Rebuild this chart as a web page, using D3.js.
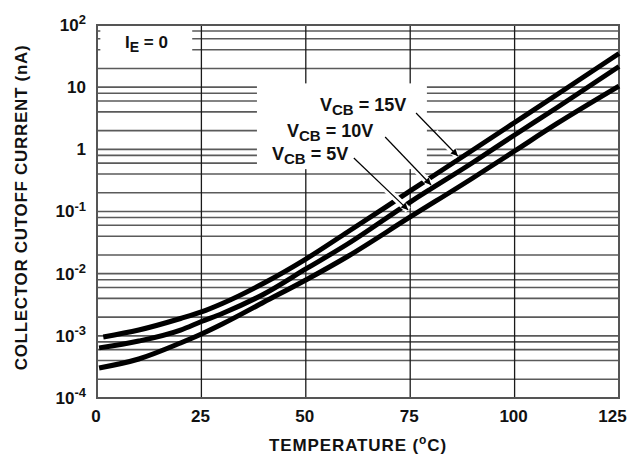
<!DOCTYPE html>
<html>
<head>
<meta charset="utf-8">
<script src="https://cdn.jsdelivr.net/npm/d3@7"></script>
<style>
body { margin: 0; background: #fff; }
text { font-family: "Liberation Sans", Arial, Helvetica, sans-serif; font-weight: bold; fill: #111; }
</style>
</head>
<body>
<script>
// Collector cutoff current vs temperature, three V_CB curves
var temps15 = [1.5, 10, 20, 25, 30, 40, 50, 60, 75, 90, 100, 110, 125];
var icbo15 = [9.6e-4, 1.24e-3, 1.90e-3, 2.42e-3, 3.31e-3, 7.08e-3, 1.72e-2, 4.68e-2, 0.214, 0.976, 2.70, 7.48, 34.8];

var temps10 = [0.5, 10, 20, 25, 30, 40, 50, 60, 75, 90, 100, 110, 125];
var icbo10 = [6.4e-4, 8.25e-4, 1.24e-3, 1.70e-3, 2.29e-3, 4.71e-3, 1.19e-2, 3.0e-2, 0.142, 0.614, 1.70, 4.62, 21.5];

var temps5 = [0.5, 10, 20, 25, 30, 40, 50, 60, 75, 90, 100, 110, 125];
var icbo5 = [3.04e-4, 4.24e-4, 7.67e-4, 1.07e-3, 1.55e-3, 3.5e-3, 7.91e-3, 1.89e-2, 8.16e-2, 0.346, 0.94, 2.56, 10.4];

var xTicks = [0, 25, 50, 75, 100, 125];
var yTicks = [1e-4, 1e-3, 1e-2, 1e-1, 1, 10, 100];
var yTickBase = ["10", "10", "10", "10", "1", "10", "10"];
var yTickSup = ["-4", "-3", "-2", "-1", "", "", "2"];
var gridSteps = [1, 2, 4, 6, 8];
var curveNames = ["15V", "10V", "5V"];

var W = 629, H = 457;
var margins = {top: 25, right: 10, bottom: 59, left: 97};

var svg = d3.select("body").append("svg")
  .attr("width", W)
  .attr("height", H);

var x_Scale = d3.scaleLinear()
  .domain([0, 125])
  .range([margins.left, W - margins.right]);

var y_Scale = d3.scaleLog()
  .domain([1e-4, 1e2])
  .range([H - margins.bottom, margins.top]);

// horizontal grid at 1,2,4,6,8 per decade
var hGrid = [];
for (var e = -4; e < 2; e++) {
  gridSteps.forEach(function(m) { hGrid.push(m * Math.pow(10, e)); });
}
hGrid.push(100);

svg.append("g").selectAll("line")
  .data(hGrid)
  .enter().append("line")
  .attr("x1", x_Scale(0)).attr("x2", x_Scale(125))
  .attr("y1", function(d) { return y_Scale(d); })
  .attr("y2", function(d) { return y_Scale(d); })
  .attr("stroke", "#5a5a5a")
  .attr("stroke-width", 1.6);

svg.append("g").selectAll("line")
  .data(xTicks)
  .enter().append("line")
  .attr("x1", function(d) { return x_Scale(d); })
  .attr("x2", function(d) { return x_Scale(d); })
  .attr("y1", y_Scale(1e2)).attr("y2", y_Scale(1e-4))
  .attr("stroke", "#1a1a1a")
  .attr("stroke-width", 1.3);

// blank areas behind the annotations
var blanks = [
  {t0: 0.8, t1: 22.8, v0: 28, v1: 100},
  {t0: 38.3, t1: 79.0, v0: 0.48, v1: 11.5}
];
svg.append("g").selectAll("rect")
  .data(blanks)
  .enter().append("rect")
  .attr("x", function(d) { return x_Scale(d.t0); })
  .attr("width", function(d) { return x_Scale(d.t1) - x_Scale(d.t0); })
  .attr("y", function(d) { return y_Scale(d.v1); })
  .attr("height", function(d) { return y_Scale(d.v0) - y_Scale(d.v1); })
  .attr("fill", "#fff");

// frame
svg.append("rect")
  .attr("x", x_Scale(0)).attr("y", y_Scale(1e2))
  .attr("width", x_Scale(125) - x_Scale(0))
  .attr("height", y_Scale(1e-4) - y_Scale(1e2))
  .attr("fill", "none")
  .attr("stroke", "#555")
  .attr("stroke-width", 2);

// axes
var x_Axis = svg.append("g")
  .attr("transform", "translate(0," + y_Scale(1e-4) + ")")
  .call(d3.axisBottom(x_Scale).tickValues(xTicks).tickSize(0).tickPadding(12));
x_Axis.select(".domain").remove();
x_Axis.selectAll("text")
  .style("font-size", "17px")
  .attr("dx", function(d) { return d === 125 ? "-7px" : "-1.5px"; });

var y_Axis = svg.append("g")
  .attr("transform", "translate(" + x_Scale(0) + ",0)")
  .call(d3.axisLeft(y_Scale).tickValues(yTicks).tickSize(0).tickPadding(11).tickFormat(""));
y_Axis.select(".domain").remove();
y_Axis.selectAll("text").each(function(d, i) {
  var t = d3.select(this).style("font-size", "17px");
  t.append("tspan").text(yTickBase[i]);
  if (yTickSup[i]) {
    t.append("tspan").attr("dy", "-0.5em").style("font-size", "13px").text(yTickSup[i]);
  }
});

// curves
var plot_line = d3.line()
  .x(function(d) { return x_Scale(d[0]); })
  .y(function(d) { return y_Scale(d[1]); })
  .curve(d3.curveMonotoneX);

var series = [d3.zip(temps15, icbo15), d3.zip(temps10, icbo10), d3.zip(temps5, icbo5)];
svg.append("g").selectAll("path")
  .data(series)
  .enter().append("path")
  .attr("d", plot_line)
  .attr("fill", "none")
  .attr("stroke", "#000")
  .attr("stroke-width", 5);

// leader arrows
svg.append("defs").append("marker")
  .attr("id", "arr")
  .attr("viewBox", "0 0 10 10")
  .attr("refX", 10).attr("refY", 5)
  .attr("markerWidth", 11).attr("markerHeight", 7)
  .attr("markerUnits", "userSpaceOnUse")
  .attr("orient", "auto")
  .append("path").attr("d", "M0,0L10,5L0,10z").attr("fill", "#000");

var leaders = [
  {t0: 76.4, v0: 3.84, t1: 86.4, v1: 0.78},
  {t0: 69.0, v0: 1.58, t1: 80.0, v1: 0.267},
  {t0: 61.5, v0: 0.724, t1: 74.5, v1: 0.106}
];
var lg = svg.append("g");
lg.selectAll(".halo")
  .data(leaders).enter().append("line")
  .attr("class", "halo")
  .attr("x1", function(d) { return x_Scale(d.t0 + (d.t1 - d.t0) * 0.45); })
  .attr("y1", function(d) { return y_Scale(d.v0 * Math.pow(d.v1 / d.v0, 0.45)); })
  .attr("x2", function(d) { return x_Scale(d.t1); })
  .attr("y2", function(d) { return y_Scale(d.v1); })
  .attr("stroke", "#fff").attr("stroke-width", 7);
lg.selectAll(".lead")
  .data(leaders).enter().append("line")
  .attr("class", "lead")
  .attr("x1", function(d) { return x_Scale(d.t0); })
  .attr("y1", function(d) { return y_Scale(d.v0); })
  .attr("x2", function(d) { return x_Scale(d.t1); })
  .attr("y2", function(d) { return y_Scale(d.v1); })
  .attr("stroke", "#000").attr("stroke-width", 1.2)
  .attr("marker-end", "url(#arr)");

// labels
var labelPos = [{t: 53.4, v: 4.13}, {t: 45.5, v: 1.58}, {t: 41.9, v: 0.673}];
labelPos.forEach(function(p, i) {
  var t = svg.append("text")
    .attr("x", x_Scale(p.t)).attr("y", y_Scale(p.v))
    .style("font-size", "18px");
  t.append("tspan").text("V");
  t.append("tspan").attr("dy", "4").style("font-size", "15px").text("CB");
  t.append("tspan").attr("dy", "-4").text(" = " + curveNames[i]);
});

var ie = svg.append("text")
  .attr("x", x_Scale(6.7)).attr("y", y_Scale(42.7))
  .style("font-size", "17px");
ie.append("tspan").text("I");
ie.append("tspan").attr("dy", "4").style("font-size", "14px").text("E");
ie.append("tspan").attr("dy", "-4").text(" = 0");

// axis titles
var xt = svg.append("text")
  .attr("x", (x_Scale(0) + x_Scale(125)) / 2)
  .attr("y", 451)
  .attr("text-anchor", "middle")
  .style("font-size", "17px")
  .style("letter-spacing", "0.9px");
xt.append("tspan").text("TEMPERATURE (");
xt.append("tspan").attr("dy", "-7").style("font-size", "12px").text("o");
xt.append("tspan").attr("dy", "7").text("C)");

svg.append("text")
  .attr("transform", "translate(27," + ((y_Scale(1e2) + y_Scale(1e-4)) / 2 - 4) + ") rotate(-90)")
  .attr("text-anchor", "middle")
  .style("font-size", "17px")
  .style("letter-spacing", "0.7px")
  .text("COLLECTOR CUTOFF CURRENT (nA)");
</script>
</body>
</html>
